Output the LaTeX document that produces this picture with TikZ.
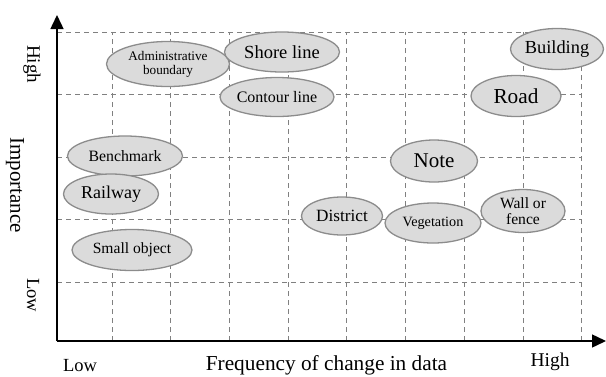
\documentclass[tikz,border=0pt]{standalone}
\usepackage{fontspec}
\setmainfont{Liberation Serif}
\usetikzlibrary{shapes.geometric,arrows.meta}
\newcommand{\fs}[1]{\fontsize{#1}{#1}\selectfont}
\begin{document}
\begin{tikzpicture}[x=1pt,y=-1pt,
  gridline/.style={draw=black!50,line width=0.9pt,dash pattern=on 5pt off 4pt},
  axisline/.style={line width=1.5pt,-{Triangle[length=14pt,width=13pt]}},
  blob/.style={ellipse,draw=black!45,line width=1.3pt,fill=black!14,inner sep=0pt,align=center},
  lbl/.style={inner sep=0pt}
]
\useasboundingbox (0,0) rectangle (606,376);
% grid
\foreach \y in {32,94.5,157,219.5,282} \draw[gridline] (57,\y) -- (581,\y);
\foreach \x in {112,170.5,229,288,346.5,405,464,523,581} \draw[gridline] (\x,341) -- (\x,32);
% axes
\coordinate (o) at (57,341);
\coordinate (ytip) at (57,15);
\coordinate (xtip) at (606,341);
\draw[axisline] (o) -- (ytip);
\draw[axisline] (o) -- (xtip);
% ellipses
\node[blob,minimum width=123pt,minimum height=45pt,font=\fontsize{13.2}{14}\selectfont] (admin) at (168,64) {Administrative\\boundary};
\node[blob,minimum width=115pt,minimum height=40pt,font=\fs{18.5}] (shore) at (282,52) {Shore line};
\node[blob,minimum width=114pt,minimum height=39pt,font=\fs{16}] (contour) at (277,97) {Contour line};
\node[blob,minimum width=115pt,minimum height=40pt,font=\fs{15.8}] (bench) at (125,156) {Benchmark};
\node[blob,minimum width=95pt,minimum height=40pt,font=\fs{18}] (rail) at (111,194) {Railway};
\node[blob,minimum width=120pt,minimum height=41pt,font=\fs{15.6}] (small) at (132,250) {Small object};
\node[blob,minimum width=93pt,minimum height=41pt,font=\fs{18.4}] (build) at (557,49) {Building};
\node[blob,minimum width=90pt,minimum height=41pt,font=\fs{21.3}] (road) at (516,96) {Road};
\node[blob,minimum width=87pt,minimum height=42pt,font=\fs{21}] (note) at (434,161) {Note};
\node[blob,minimum width=81pt,minimum height=38pt,font=\fs{17.2}] (district) at (342,216) {District};
\node[blob,minimum width=96pt,minimum height=40pt,font=\fs{14.2}] (veg) at (433,223) {Vegetation};
\node[blob,minimum width=84pt,minimum height=43pt,font=\fontsize{15.6}{16}\selectfont] (wall) at (523,211) {Wall or\\fence};
% axis labels
\node[lbl,rotate=-90,font=\fs{19}] (yhigh) at (32,64) {High};
\node[lbl,rotate=-90,font=\fs{21}] (ytitle) at (15,185) {Importance};
\node[lbl,rotate=-90,font=\fs{18.5}] (ylow) at (33,295) {Low};
\node[lbl,anchor=base,font=\fs{18.5}] (xlow) at (80,371) {Low};
\node[lbl,anchor=base,font=\fs{19.5}] (xhigh) at (550,366) {High};
\node[lbl,anchor=base,font=\fs{21.3}] (xtitle) at (326.5,370.5) {Frequency of change in data};
\end{tikzpicture}
\end{document}
